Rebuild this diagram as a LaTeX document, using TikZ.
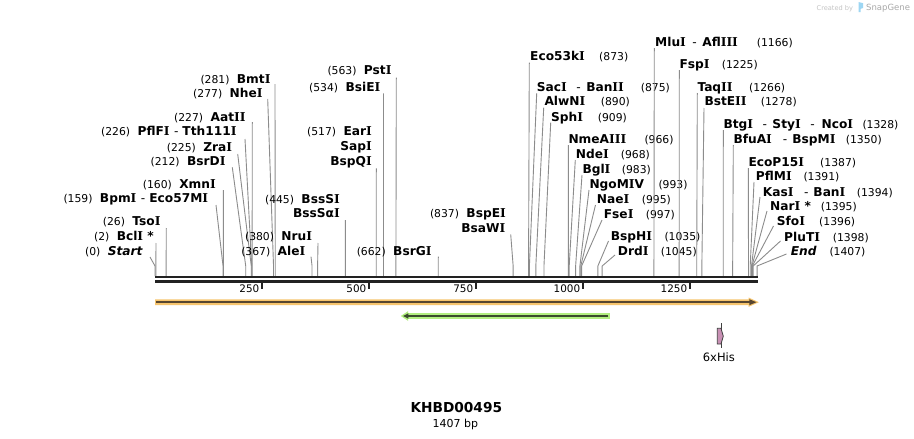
\documentclass[tikz,border=0pt]{standalone}
\usepackage{fontspec}
\setmainfont{DejaVu Sans}
\newfontfamily\serfam{DejaVu Serif}
\newcommand\sI{{\serfam I}}
\definecolor{leadc}{HTML}{8C8C8C}
\definecolor{bbc}{HTML}{222222}
\definecolor{orfill}{HTML}{F7C56E}
\definecolor{ordark}{HTML}{574630}
\definecolor{grfill}{HTML}{B2EE80}
\definecolor{grdark}{HTML}{3A4A2C}
\definecolor{hisfill}{HTML}{C890B4}
\definecolor{hisline}{HTML}{404040}
\definecolor{wmlight}{HTML}{C4C4C4}
\definecolor{wmdark}{HTML}{A8A8A8}
\definecolor{wmblue}{HTML}{9DD6F3}
\tikzset{
  namest/.style={inner sep=0pt, font=\fontsize{12.2}{12}\selectfont\bfseries},
  numst/.style={inner sep=0pt, font=\fontsize{10.8}{11}\selectfont},
  tickst/.style={inner sep=0pt, font=\fontsize{10.4}{11}\selectfont},
  leader/.style={draw=leadc, line width=0.9pt},
  bbline/.style={draw=bbc, line width=2.4pt},
  tickline/.style={draw=bbc, line width=1.8pt},
}
\newcommand\LL[8]{%
  \node[namest, anchor=base east] (#1) at (#4,#5+4.2) {#3};
  \node[numst, anchor=base east] (#1n) at ([xshift=-7pt]#1.base west) {(#2)};
  \coordinate (#1a) at (#6,#7);
  \coordinate (#1s) at ({155+#8*0.4279},276);
  \draw[leader] (#1a) -- ([yshift=10pt]#1s) -- (#1s);
}
\newcommand\RL[9]{%
  \node[namest, anchor=base west] (#1) at (#3,#4+4.2) {#2};
  \node[numst, anchor=base west] (#1n) at (#5,#4+4.2) {(#6)};
  \coordinate (#1a) at (#7,#8);
  \coordinate (#1s) at ({155+#9*0.4279},276);
  \draw[leader] (#1a) -- ([yshift=10pt]#1s) -- (#1s);
}
\newcommand\EX[4]{%
  \node[namest, anchor=base east] (#1) at (#2,#3+4.2) {#4};
}
\newcommand\TK[1]{%
  \coordinate (tk#1) at ({155+#1*0.4279},282);
  \draw[tickline] (tk#1) -- ([yshift=-7.3pt]tk#1);
  \node[tickst, anchor=base east] (tl#1) at ([xshift=-2.5pt,yshift=-10.7pt]tk#1) {#1};
}
\newcommand\hy[2]{\hspace{#1pt}\textmd{-}\hspace{#2pt}}
\begin{document}
\begin{tikzpicture}[x=1pt,y=-1pt]
\useasboundingbox (0,0) rectangle (914,439);
\fill[white] (0,0) rectangle (914,439);

% watermark
\node[inner sep=0pt, anchor=base west, text=wmlight, font=\fontsize{6.6}{7}\selectfont] (wm1) at (816.5,10.3) {Created by};
\fill[wmblue] (858.5,2) -- (863.2,3.2) -- (863.2,8) -- (860.6,8.8) -- (860.6,12) -- (858.5,12) -- cycle;
\node[inner sep=0pt, anchor=base west, text=wmdark, font=\fontsize{8.5}{9}\selectfont] (wm2) at (866,10.8) {SnapGene};

% left-side labels
\LL{bmt}{281}{Bmt\sI}{270.7}{79}{275}{84}{281}
\LL{nhe}{277}{Nhe\sI}{262.7}{93.3}{267.7}{99}{277}
\LL{aat}{227}{Aat\sI\sI}{245.7}{117.3}{252.3}{122}{227}
\LL{pff}{226}{PflF\sI\hy{4.5}{4}Tth111\sI}{236.7}{131.7}{245}{139}{226}
\LL{zra}{225}{Zra\sI}{232.3}{147.3}{237.7}{154}{225}
\LL{bsrd}{212}{BsrD\sI}{225.7}{161.7}{232.3}{167.3}{212}
\LL{xmn}{160}{Xmn\sI}{216}{184}{223.3}{190}{160}
\LL{bpm}{159}{Bpm\sI\hy{4.5}{4}Eco57M\sI}{208.3}{198.3}{216}{205}{159}
\LL{tso}{26}{Tso\sI}{160.7}{221.7}{166.3}{228}{26}
\LL{bcl}{2}{Bcl\sI{} *}{154}{236.7}{156}{243}{2}
\LL{start}{0}{\itshape Start}{142.7}{251.7}{150}{257}{0}
\LL{nru}{380}{Nru\sI}{312.3}{236.7}{318}{243}{380}
\LL{ale}{367}{Ale\sI}{305.5}{251.7}{311}{256.7}{367}
\LL{pst}{563}{Pst\sI}{391.7}{70.7}{396.3}{77.7}{563}
\LL{bsie}{534}{BsiE\sI}{380.5}{87.3}{383.5}{93.3}{534}
\LL{ear}{517}{Ear\sI}{372}{131.7}{376.3}{168.3}{517}
\EX{sap}{372}{146.7}{Sap\sI}
\EX{bspq}{372}{161.7}{BspQ\sI}
\LL{bsss}{445}{BssS\sI}{340}{199}{345.3}{220}{445}
\EX{bsssa}{340}{213.3}{BssSα\sI}
\LL{bsrg}{662}{BsrG\sI}{431.7}{251.7}{438.3}{256.7}{662}
\LL{bspe}{837}{BspE\sI}{506}{213.3}{510.7}{234.3}{837}
\EX{bsaw}{505.5}{228.3}{BsaW\sI}

% right-side labels
\RL{ecofs}{Eco53k\sI}{530}{56.7}{599}{873}{529.3}{62.7}{873}
\RL{sac}{Sac\sI\hy{9.5}{5.5}Ban\sI\sI}{536.7}{87.3}{640.7}{875}{536.7}{93.3}{875}
\RL{alw}{AlwN\sI}{544.3}{101.7}{600.7}{890}{543.7}{107.7}{890}
\RL{sph}{Sph\sI}{551}{117.3}{597.7}{909}{550.7}{122.7}{909}
\RL{nme}{NmeA\sI\sI\sI}{568.3}{139}{644.3}{966}{568.3}{145}{966}
\RL{nde}{Nde\sI}{575.7}{154}{620.7}{968}{575.3}{160}{968}
\RL{bgl}{Bgl\sI}{582.3}{169}{621.7}{983}{582}{175}{983}
\RL{ngo}{NgoM\sI V}{589.3}{184}{658.3}{993}{589}{190}{993}
\RL{nae}{Nae\sI}{596.7}{199}{641.7}{995}{595.5}{205}{995}
\RL{fse}{Fse\sI}{603.7}{214}{645.7}{997}{602}{220}{997}
\RL{bsph}{BspH\sI}{610.7}{236.7}{664.3}{1035}{608.5}{241}{1035}
\RL{drd}{Drd\sI}{617.7}{251.7}{660.7}{1045}{615}{255}{1045}
\RL{mlu}{Mlu\sI\hy{6.5}{5.5}Afl\sI\sI\sI}{655}{42.3}{756.7}{1166}{654.3}{48}{1166}
\RL{fsp}{Fsp\sI}{679.3}{64}{721.7}{1225}{679.3}{70}{1225}
\RL{taq}{Taq\sI\sI}{697.3}{87.3}{749}{1266}{697.3}{93}{1266}
\RL{bste}{BstE\sI\sI}{704.3}{101.7}{760.7}{1278}{704}{108}{1278}
\RL{btg}{Btg\sI\hy{9.5}{5.5}Sty\sI\hy{9.5}{7}Nco\sI}{723.3}{124}{862.3}{1328}{723.3}{130}{1328}
\RL{bfu}{BfuA\sI\hy{11}{5}BspM\sI}{733.3}{139}{845.7}{1350}{733.3}{145}{1350}
\RL{ecop}{EcoP15\sI}{748.3}{162.3}{820}{1387}{748.3}{168}{1387}
\RL{pflm}{PflM\sI}{755.7}{176.7}{803.3}{1391}{754}{182}{1391}
\RL{kas}{Kas\sI\hy{10.5}{5}Ban\sI}{762.7}{192.3}{856.7}{1394}{760}{197}{1394}
\RL{nar}{Nar\sI{} *}{770}{206.7}{820.7}{1395}{767}{211}{1395}
\RL{sfo}{Sfo\sI}{776.7}{221.7}{819}{1396}{773.5}{226}{1396}
\RL{plu}{PluT\sI}{784}{237.3}{832.7}{1398}{780.5}{241}{1398}
\RL{endl}{\itshape End}{790.7}{251.7}{829.3}{1407}{786.5}{254}{1407}

% backbone
\coordinate (bbL1) at (155,277.2); \coordinate (bbR1) at (757.6,277.2);
\coordinate (bbL2) at (155,281.6); \coordinate (bbR2) at (757.6,281.6);
\draw[bbline] (bbL1) -- (bbR1);
\draw[bbline] (bbL2) -- (bbR2);
\TK{250}\TK{500}\TK{750}\TK{1000}\TK{1250}

% orange feature (full length, forward)
\fill[orfill] (155,299.3) -- (748.5,299.3) -- (748.5,297.5) -- (758.8,302.2) -- (748.5,306.9) -- (748.5,305.1) -- (155,305.1) -- cycle;
\draw[ordark, line width=1.7pt] (156,302.2) -- (750,302.2);
\fill[ordark] (749.3,299.2) -- (756.4,302.2) -- (749.3,305.2) -- cycle;

% green feature (reverse)
\fill[grfill] (609.9,313.1) -- (408,313.1) -- (408,311.2) -- (400.8,316) -- (408,320.8) -- (408,318.9) -- (609.9,318.9) -- cycle;
\draw[grdark, line width=1.7pt] (608.4,316) -- (407,316);
\fill[grdark] (408.3,313.3) -- (403.2,316) -- (408.3,318.7) -- cycle;

% 6xHis
\draw[hisline, line width=0.9pt] (721,323.3) -- (721,348.3);
\filldraw[fill=hisfill, draw=hisline, line width=0.8pt] (717.3,328.3) -- (721,328.3) -- (723.3,336.2) -- (721,344) -- (717.3,344) -- cycle;
\node[inner sep=0pt, anchor=base, font=\fontsize{11.5}{12}\selectfont] (his) at (718.9,361.3) {6xHis};

% title
\node[inner sep=0pt, anchor=base, font=\fontsize{13.7}{14}\selectfont\bfseries] (title) at (456.3,412.8) {KHBD00495};
\node[inner sep=0pt, anchor=base, font=\fontsize{11}{12}\selectfont] (len) at (455.3,427.3) {1407 bp};
\end{tikzpicture}
\end{document}
